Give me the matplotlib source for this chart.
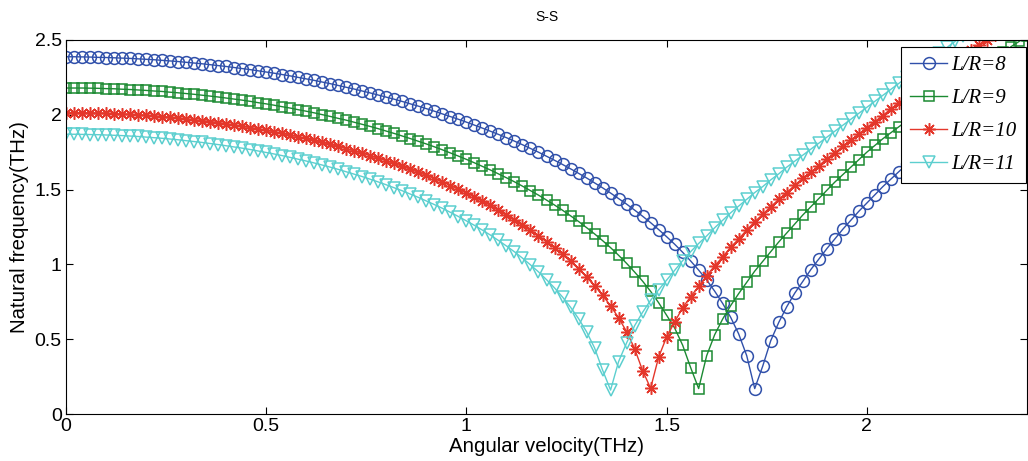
import numpy as np
import matplotlib
matplotlib.use("Agg")
import matplotlib.pyplot as plt
from matplotlib.font_manager import FontProperties

# angular velocity grid (THz), one marker every 0.02
omega = np.linspace(0, 2.4, 121)

# natural frequency (THz)
lr8 = [2.388, 2.388, 2.387, 2.386, 2.384, 2.383, 2.381, 2.379, 2.377, 2.374,
       2.371, 2.368, 2.364, 2.360, 2.356, 2.351, 2.346, 2.341, 2.335, 2.329,
       2.323, 2.316, 2.309, 2.302, 2.294, 2.286, 2.278, 2.269, 2.260, 2.250,
       2.240, 2.230, 2.219, 2.208, 2.196, 2.184, 2.172, 2.159, 2.146, 2.132,
       2.118, 2.104, 2.089, 2.073, 2.058, 2.041, 2.024, 2.006, 1.988, 1.970,
       1.951, 1.931, 1.911, 1.890, 1.869, 1.847, 1.824, 1.800, 1.775, 1.750,
       1.723, 1.696, 1.668, 1.639, 1.609, 1.578, 1.545, 1.512, 1.477, 1.440,
       1.403, 1.363, 1.322, 1.279, 1.233, 1.185, 1.135, 1.081, 1.023, 0.962,
       0.896, 0.821, 0.739, 0.646, 0.535, 0.390, 0.170, 0.320, 0.490, 0.612,
       0.717, 0.808, 0.886, 0.965, 1.035, 1.105, 1.170, 1.235, 1.295, 1.355,
       1.410, 1.465, 1.520, 1.570, 1.620, 1.670, 1.718, 1.765, 1.810, 1.855,
       1.900, 1.944, 1.988, 2.031, 2.073, 2.115, 2.157, 2.198, 2.239, 2.280,
       2.320]

lr9 = [2.179, 2.179, 2.179, 2.178, 2.177, 2.175, 2.174, 2.171, 2.169, 2.166,
       2.163, 2.159, 2.156, 2.151, 2.147, 2.142, 2.137, 2.131, 2.125, 2.119,
       2.112, 2.105, 2.098, 2.090, 2.081, 2.073, 2.064, 2.054, 2.045, 2.034,
       2.024, 2.013, 2.001, 1.989, 1.976, 1.964, 1.950, 1.936, 1.922, 1.907,
       1.891, 1.875, 1.858, 1.841, 1.823, 1.805, 1.786, 1.766, 1.745, 1.724,
       1.702, 1.679, 1.655, 1.631, 1.605, 1.579, 1.552, 1.523, 1.493, 1.463,
       1.430, 1.397, 1.362, 1.325, 1.287, 1.246, 1.204, 1.159, 1.112, 1.061,
       1.007, 0.949, 0.888, 0.820, 0.744, 0.660, 0.575, 0.460, 0.310, 0.170,
       0.390, 0.530, 0.635, 0.725, 0.805, 0.880, 0.955, 1.020, 1.085, 1.150,
       1.210, 1.270, 1.330, 1.385, 1.440, 1.495, 1.550, 1.600, 1.650, 1.700,
       1.750, 1.795, 1.840, 1.880, 1.920, 1.960, 2.000, 2.040, 2.080, 2.120,
       2.160, 2.195, 2.235, 2.270, 2.310, 2.345, 2.380, 2.420, 2.455, 2.490,
       2.525]

lr10 = [2.015, 2.015, 2.014, 2.013, 2.012, 2.010, 2.008, 2.006, 2.003, 2.000,
        1.997, 1.993, 1.988, 1.984, 1.979, 1.973, 1.967, 1.961, 1.955, 1.948,
        1.940, 1.932, 1.924, 1.915, 1.906, 1.897, 1.887, 1.876, 1.865, 1.854,
        1.842, 1.829, 1.816, 1.803, 1.789, 1.774, 1.759, 1.744, 1.727, 1.710,
        1.693, 1.675, 1.656, 1.636, 1.616, 1.595, 1.573, 1.550, 1.527, 1.502,
        1.477, 1.450, 1.423, 1.394, 1.364, 1.333, 1.300, 1.266, 1.230, 1.192,
        1.153, 1.111, 1.067, 1.020, 0.970, 0.916, 0.857, 0.794, 0.723, 0.643,
        0.551, 0.437, 0.290, 0.172, 0.380, 0.515, 0.615, 0.710, 0.785, 0.853,
        0.925, 0.990, 1.050, 1.115, 1.170, 1.230, 1.285, 1.335, 1.385, 1.435,
        1.480, 1.530, 1.575, 1.615, 1.660, 1.705, 1.745, 1.790, 1.830, 1.870,
        1.915, 1.955, 1.995, 2.040, 2.080, 2.120, 2.160, 2.200, 2.240, 2.280,
        2.315, 2.355, 2.390, 2.430, 2.465, 2.500, 2.535, 2.570, 2.605, 2.640,
        2.675]

lr11 = [1.870, 1.870, 1.869, 1.868, 1.867, 1.865, 1.863, 1.861, 1.858, 1.855,
        1.851, 1.847, 1.843, 1.838, 1.833, 1.827, 1.821, 1.815, 1.808, 1.801,
        1.793, 1.785, 1.777, 1.768, 1.758, 1.748, 1.738, 1.727, 1.715, 1.703,
        1.691, 1.678, 1.664, 1.650, 1.635, 1.619, 1.603, 1.587, 1.569, 1.551,
        1.532, 1.512, 1.492, 1.470, 1.448, 1.424, 1.400, 1.375, 1.348, 1.320,
        1.291, 1.261, 1.229, 1.196, 1.160, 1.123, 1.084, 1.042, 0.997, 0.950,
        0.898, 0.843, 0.782, 0.714, 0.638, 0.550, 0.442, 0.294, 0.160, 0.350,
        0.475, 0.590, 0.680, 0.760, 0.830, 0.895, 0.960, 1.025, 1.085, 1.140,
        1.190, 1.245, 1.295, 1.345, 1.390, 1.435, 1.480, 1.520, 1.565, 1.605,
        1.650, 1.690, 1.730, 1.770, 1.810, 1.850, 1.890, 1.930, 1.970, 2.010,
        2.050, 2.090, 2.130, 2.170, 2.210, 2.250, 2.290, 2.330, 2.370, 2.410,
        2.450, 2.490, 2.530, 2.570, 2.610, 2.645, 2.680, 2.720, 2.755, 2.790,
        2.830]

labels = ['L/R=8', 'L/R=9', 'L/R=10', 'L/R=11']
xticks = [0, 0.5, 1, 1.5, 2]
xtick_labels = ['0', '0.5', '1', '1.5', '2']
yticks = [0, 0.5, 1, 1.5, 2, 2.5]
ytick_labels = ['0', '0.5', '1', '1.5', '2', '2.5']

plt.rcParams['font.family'] = ['Liberation Sans', 'DejaVu Sans']

fig = plt.figure(figsize=(10.28, 4.61), dpi=100)
ax = fig.add_axes([66 / 1028, 1 - 414 / 461, 961 / 1028, 374 / 461])

styles = [
    dict(marker='o', color='#3050aa', ms=8.5),
    dict(marker='s', color='#1b8a32', ms=7.3),
    dict(marker=(8, 2, 0), color='#e4372b', ms=9),
    dict(marker='v', color='#5ccfcf', ms=9),
]
for yv, lab, st in zip([lr8, lr9, lr10, lr11], labels, styles):
    ax.plot(omega, yv, '-', lw=1.0, label=lab, marker=st['marker'],
            color=st['color'], ms=st['ms'], mfc='none', mew=1.1)

ax.set_xlim(0, 2.4)
ax.set_ylim(0, 2.5)
ax.set_xticks(xticks)
ax.set_xticklabels(xtick_labels)
ax.set_yticks(yticks)
ax.set_yticklabels(ytick_labels)
ax.tick_params(direction='in', top=True, right=True, length=5, width=0.8,
               labelsize=14, pad=3)
for sp in ax.spines.values():
    sp.set_linewidth(0.8)

ax.set_xlabel('Angular velocity(THz)', fontsize=14.7, labelpad=1)
ax.set_ylabel('Natural frequency(THz)', fontsize=14.7, labelpad=4)
ax.set_title('S-S', fontsize=10, pad=14)

leg = ax.legend(loc='upper right', bbox_to_anchor=(1 - 1.5 / 961, 1 - 6.7 / 374),
                prop=FontProperties(family='Liberation Serif', style='italic', size=15),
                fancybox=False, edgecolor='black', framealpha=1, borderaxespad=0,
                handlelength=1.8, handletextpad=0.18, labelspacing=0.64,
                borderpad=0.44)
leg.get_frame().set_linewidth(0.8)

fig.savefig('out.png', dpi=100)
